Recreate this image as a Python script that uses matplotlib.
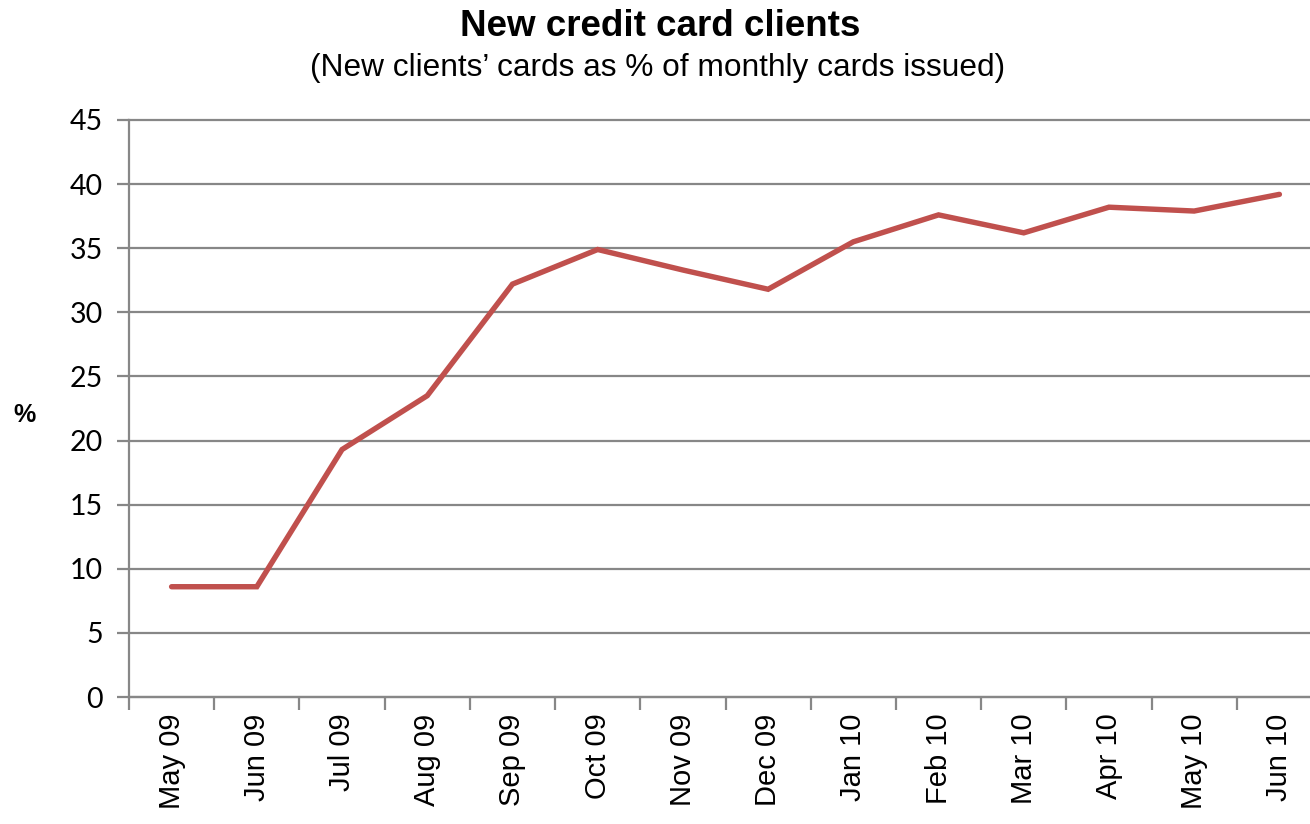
import matplotlib
matplotlib.use("Agg")
import matplotlib.pyplot as plt

months = ["May 09", "Jun 09", "Jul 09", "Aug 09", "Sep 09", "Oct 09", "Nov 09",
          "Dec 09", "Jan 10", "Feb 10", "Mar 10", "Apr 10", "May 10", "Jun 10"]
new_clients_pct = [8.6, 8.6, 19.3, 23.5, 32.2, 34.9, 33.3,
                   31.8, 35.5, 37.6, 36.2, 38.2, 37.9, 39.2]
y_ticks = [0, 5, 10, 15, 20, 25, 30, 35, 40, 45]

W, H = 1310, 824
fig = plt.figure(figsize=(W / 100, H / 100), dpi=100)
ax = fig.add_axes([129 / W, 1 - 697 / H, (1322 - 129) / W, (697 - 120) / H])

grid_c = "#878787"
x = list(range(len(months)))
ax.plot(x, new_clients_pct, color="#C0504D", lw=3.9, solid_capstyle="round",
        solid_joinstyle="miter", zorder=3)

ax.set_xlim(-0.5, len(months) - 0.5)
ax.set_ylim(0, 45)
ax.set_yticks(y_ticks)
ax.set_yticklabels([str(v) for v in y_ticks], fontsize=20.5, family="Lato")
ax.yaxis.grid(True, color=grid_c, lw=1.6)
for gl in ax.get_ygridlines():
    gl.set_clip_on(False)
ax.set_axisbelow(True)

ax.set_xticks(x)
ax.set_xticklabels(months, rotation=90, fontsize=21, family="Liberation Sans")
ax.set_xticks([i - 0.5 for i in range(len(months) + 1)], minor=True)
ax.tick_params(axis="x", which="major", length=0, pad=12)
ax.tick_params(axis="x", which="minor", length=9, width=1.6, color=grid_c)
ax.tick_params(axis="y", length=9, width=1.6, color=grid_c, pad=10)

for s in ["top", "right"]:
    ax.spines[s].set_visible(False)
for s in ["left", "bottom"]:
    ax.spines[s].set_color(grid_c)
    ax.spines[s].set_linewidth(1.6)

fig.text(660 / W, 1 - 26 / H, "New credit card clients", ha="center", va="center",
         fontsize=26.5, fontweight="bold", family="Liberation Sans")
fig.text(658 / W, 1 - 68 / H, "(New clients\u2019 cards as % of monthly cards issued)",
         ha="center", va="center", fontsize=22.8, family="Liberation Sans")
fig.text(25 / W, 1 - 415 / H, "%", ha="center", va="center", fontsize=18,
         fontweight="bold", family="Liberation Sans")

fig.savefig("out.png", dpi=100)
